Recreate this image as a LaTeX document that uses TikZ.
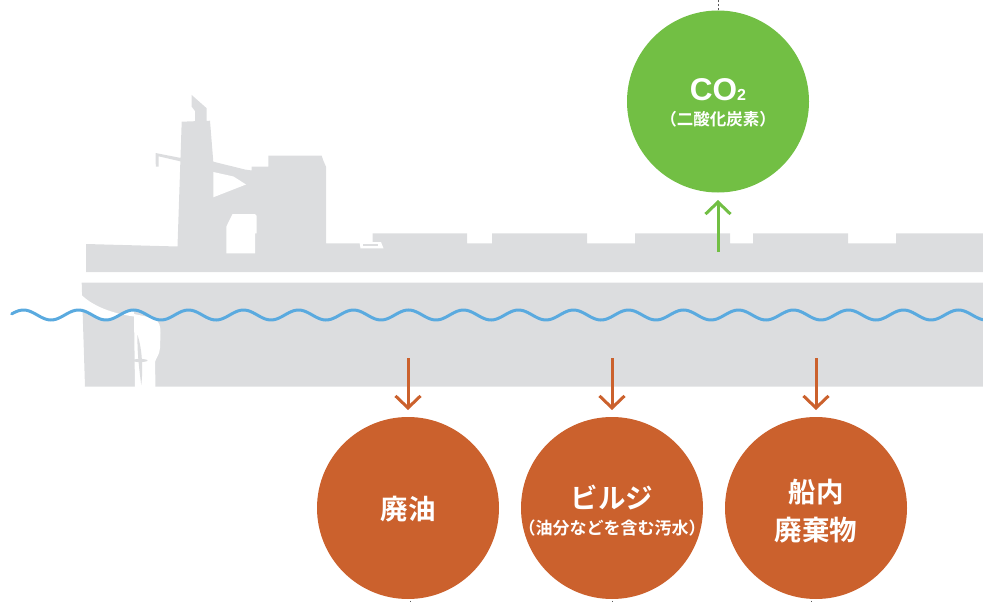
\documentclass[tikz,border=0pt]{standalone}
\usepackage{fontspec}
\newfontfamily\jpfont{Noto Sans CJK JP Bold}
\newfontfamily\lsfont{Liberation Sans}
\usetikzlibrary{arrows.meta}
\definecolor{hull}{HTML}{DCDDDF}
\definecolor{sea}{HTML}{5AAADF}
\definecolor{gas}{HTML}{72BF44}
\definecolor{waste}{HTML}{CB612D}
\begin{document}
\begin{tikzpicture}[x=1pt,y=-1pt,
  bubble/.style={circle,minimum size=182pt,inner sep=0pt,outer sep=0pt},
  flow/.style={line width=3pt,-{Straight Barb[length=12pt,width=25pt]}},
  label/.style={text=white,inner sep=0pt,anchor=base},
  tick/.style={line width=0.6pt,black!65},
  wave/.style={sea,line width=3pt,line cap=round}]
\useasboundingbox (0,0) rectangle (983,602);

% superstructure, deck and hatch covers
\fill[hull] (86,272) -- (86,244) -- (177.5,246.5) -- (181.7,121.7) -- (195,121.2)
  -- (195,111) -- (191.7,106.7) -- (191.7,95) -- (206.7,108.3) -- (206.7,121)
  -- (210,120.7) -- (213.3,161.7) -- (245,169.5) -- (251.7,170.5) -- (251.7,166.7)
  -- (268.3,166.7) -- (268.3,155.7) -- (321.7,155.7) -- (323.5,161) -- (326,166.7)
  -- (326,243.3) -- (372.7,243.3) -- (372.7,233.3) -- (467,233.3) -- (467,243.3)
  -- (492,243.3) -- (492,233.3) -- (587,233.3) -- (587,243.3) -- (635,243.3)
  -- (635,233.3) -- (730,233.3) -- (730,243.3) -- (753,243.3) -- (753,233.3)
  -- (848,233.3) -- (848,243.3) -- (896,243.3) -- (896,233.3) -- (983,233.3)
  -- (983,272) -- cycle;
% mast arm
\fill[hull] (155.5,153) -- (181,158) -- (181,161.5) -- (158.5,156.3)
  -- (158.5,166.5) -- (155.8,166.5) -- cycle;
% openings in the superstructure
\fill[white] (213.3,172) -- (233.5,176.5) -- (246,184.5) -- (213.3,197.3) -- cycle;
\fill[white] (226.3,253.3) -- (226.3,226.7) -- (232.5,214) -- (255,214) -- (256.7,216)
  -- (256.7,233.3) -- (255,233.3) -- (255,253.3) -- cycle;
\fill[white] (359.5,242) -- (381,242) -- (383.5,248.3) -- (360.5,248.3) -- cycle;
\fill[hull] (363,244) rectangle (377.5,246.2);

% lower hull
\fill[hull] (81.7,282.7) -- (983,282.7) -- (983,386.7) -- (85,386.7) -- cycle;
% stern overhang
\fill[white] (80,293.5) .. controls (92,306) and (112,313.5) .. (134,316.5)
  -- plot[domain=134:80,samples=30] (\x,{315-5*cos(6.54545*(\x-23.5))}) -- cycle;
% rudder gap
\fill[white] (134,314) -- (153,318) .. controls (160,321) and (160.5,327) .. (160.5,333)
  -- (160,348) .. controls (159.5,355) and (156,358) .. (155,362)
  -- (155.5,387.5) -- (135,387.5) -- cycle;
% propeller
\fill[hull] (137.5,335) .. controls (142.5,350) and (143,370) .. (141.3,385)
  .. controls (139.5,372) and (137,352) .. cycle;
\fill[hull] (140,360.5) ellipse [x radius=7.5, y radius=1.6];

% sea surface
\draw[wave] plot[domain=11.7:983,samples=400,smooth] (\x,{315-5*cos(6.54545*(\x-23.5))});

% emission and discharge bubbles
\node[bubble,fill=gas] (g) at (718,101.5) {};
\node[bubble,fill=waste] (w1) at (408,508) {};
\node[bubble,fill=waste] (w2) at (612,508) {};
\node[bubble,fill=waste] (w3) at (816,508) {};

% labels
\node[label,font=\lsfont\bfseries\fontsize{31.5}{31.5}\selectfont] (co) at (718,100.5)
  {CO{\fontsize{16}{16}\selectfont 2}};
\node[label,font=\jpfont\fontsize{16.5}{16.5}\selectfont] (cos) at (718,125.3) {（二酸化炭素）};
\node[label,font=\jpfont\fontsize{27.5}{27.5}\selectfont] (t1) at (408,519.5) {廃油};
\node[label,font=\jpfont\fontsize{27.5}{27.5}\selectfont] (t2) at (612,508) {ビルジ};
\node[label,font=\jpfont\fontsize{17}{17}\selectfont] (t2s) at (612,534) {（油分などを含む汚水）};
\node[label,font=\jpfont\fontsize{27.5}{27.5}\selectfont] (t3a) at (816,502.2) {船内};
\node[label,font=\jpfont\fontsize{27.5}{27.5}\selectfont] (t3b) at (816,540.5) {廃棄物};

% flow arrows
\coordinate (sg) at (718,252);
\coordinate (s1) at (408,358);
\coordinate (s2) at (612,358);
\coordinate (s3) at (816,358);
\draw[flow,gas,shorten >=7.5pt] (sg) -- (g.south);
\draw[flow,waste,shorten >=7pt] (s1) -- (w1.north);
\draw[flow,waste,shorten >=7pt] (s2) -- (w2.north);
\draw[flow,waste,shorten >=7pt] (s3) -- (w3.north);

% guide ticks
\draw[tick,dash pattern=on 2pt off 2pt] (g.north) -- ++(0,-10);
\draw[tick] (w1.south) ++(2,1.5) -- ++(0,3);
\draw[tick] (w2.south) ++(0,1.5) -- ++(0,3);
\draw[tick] (w3.south) ++(-5,1.5) -- ++(0,3);
\end{tikzpicture}
\end{document}
